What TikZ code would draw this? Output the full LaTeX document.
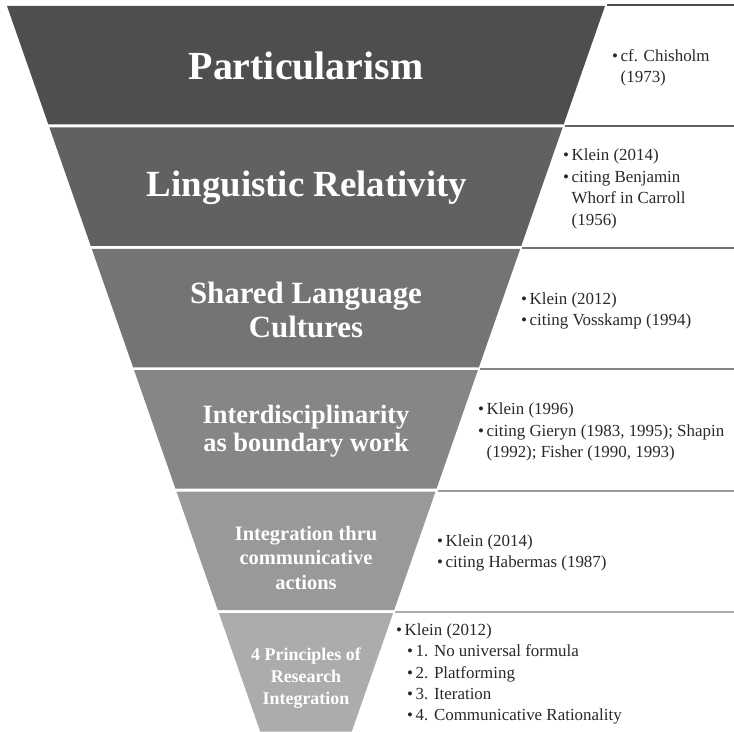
\documentclass[tikz,border=0pt]{standalone}
\usepackage{fontspec}
\setmainfont{Liberation Serif}
\definecolor{BandOne}{RGB}{78, 78, 78}
\definecolor{BandTwo}{RGB}{97, 97, 97}
\definecolor{BandThree}{RGB}{116, 116, 116}
\definecolor{BandFour}{RGB}{134, 134, 134}
\definecolor{BandFive}{RGB}{153, 153, 153}
\definecolor{BandSix}{RGB}{172, 172, 172}
\definecolor{RefText}{RGB}{40, 40, 40}
\newcommand{\bulletmark}{\makebox[8.5bp][l]{\fontsize{17}{17}\selectfont\textbullet}}
\newcommand{\hangspace}{\hspace*{8.5bp}}

\begin{document}
\begin{tikzpicture}[x=1bp, y=-1bp,
		band/.style={text=white, align=center, inner sep=0pt},
		refs/.style={text=RefText, anchor=west, align=left, inner sep=0pt, font=\fontsize{17}{21.5}\selectfont}]
		\useasboundingbox (0, 0) rectangle (734, 732);
		\foreach \i/\col in {0/BandOne, 1/BandTwo, 2/BandThree, 3/BandFour, 4/BandFive, 5/BandSix}{
			\pgfmathsetmacro{\ytop}{6 + 121.4*\i}
			\pgfmathsetmacro{\ybot}{min(\ytop + 118.5, 732)}
			\pgfmathsetmacro{\htop}{299 - 0.349*(\ytop - 6)}
			\pgfmathsetmacro{\hbot}{299 - 0.349*(\ybot - 6)}
			\fill[\col] (306 - \htop, \ytop) -- (306 + \htop, \ytop) -- (306 + \hbot, \ybot) -- (306 - \hbot, \ybot) -- cycle;
			\draw[\col, line width=1.8bp] (306 + \htop + 2, \ytop - 1) -- (734, \ytop - 1);
		}
		% pyramid labels
		\node[band, font=\bfseries\fontsize{40}{44}\selectfont] (particular) at (306, 66) {Particularism};
		\node[band, font=\bfseries\fontsize{37}{42}\selectfont] (relativity) at (307, 188) {Linguistic Relativity};
		\node[band, font=\bfseries\fontsize{31}{35}\selectfont] (shared) at (306, 310) {Shared Language\\Cultures};
		\node[band, font=\bfseries\fontsize{26.5}{28}\selectfont] (boundary) at (306, 431) {Interdisciplinarity\\as boundary work};
		\node[band, font=\bfseries\fontsize{20.5}{24.5}\selectfont] (communic) at (306, 558) {Integration thru\\communicative\\actions};
		\node[band, font=\bfseries\fontsize{18}{22}\selectfont] (principles) at (306, 678) {4 Principles of\\Research\\Integration};
		% references
		\node[refs] (chisholm) at (612, 68) {\bulletmark cf. Chisholm\\\hangspace(1973)};
		\node[refs] (whorf) at (563, 189) {\bulletmark Klein (2014)\\\bulletmark citing Benjamin\\\hangspace Whorf in Carroll\\\hangspace(1956)};
		\node[refs] (vosskamp) at (521, 311) {\bulletmark Klein (2012)\\\bulletmark citing Vosskamp (1994)};
		\node[refs] (gieryn) at (478, 432) {\bulletmark Klein (1996)\\\bulletmark citing Gieryn (1983, 1995); Shapin\\\hangspace(1992); Fisher (1990, 1993)};
		\node[refs] (habermas) at (437, 553) {\bulletmark Klein (2014)\\\bulletmark citing Habermas (1987)};
		\node[refs] (formula) at (396, 674) {\bulletmark Klein (2012)\\\hspace*{11bp}\bulletmark 1. No universal formula\\\hspace*{11bp}\bulletmark 2. Platforming\\\hspace*{11bp}\bulletmark 3. Iteration\\\hspace*{11bp}\bulletmark 4. Communicative Rationality};
	\end{tikzpicture}
\end{document}
